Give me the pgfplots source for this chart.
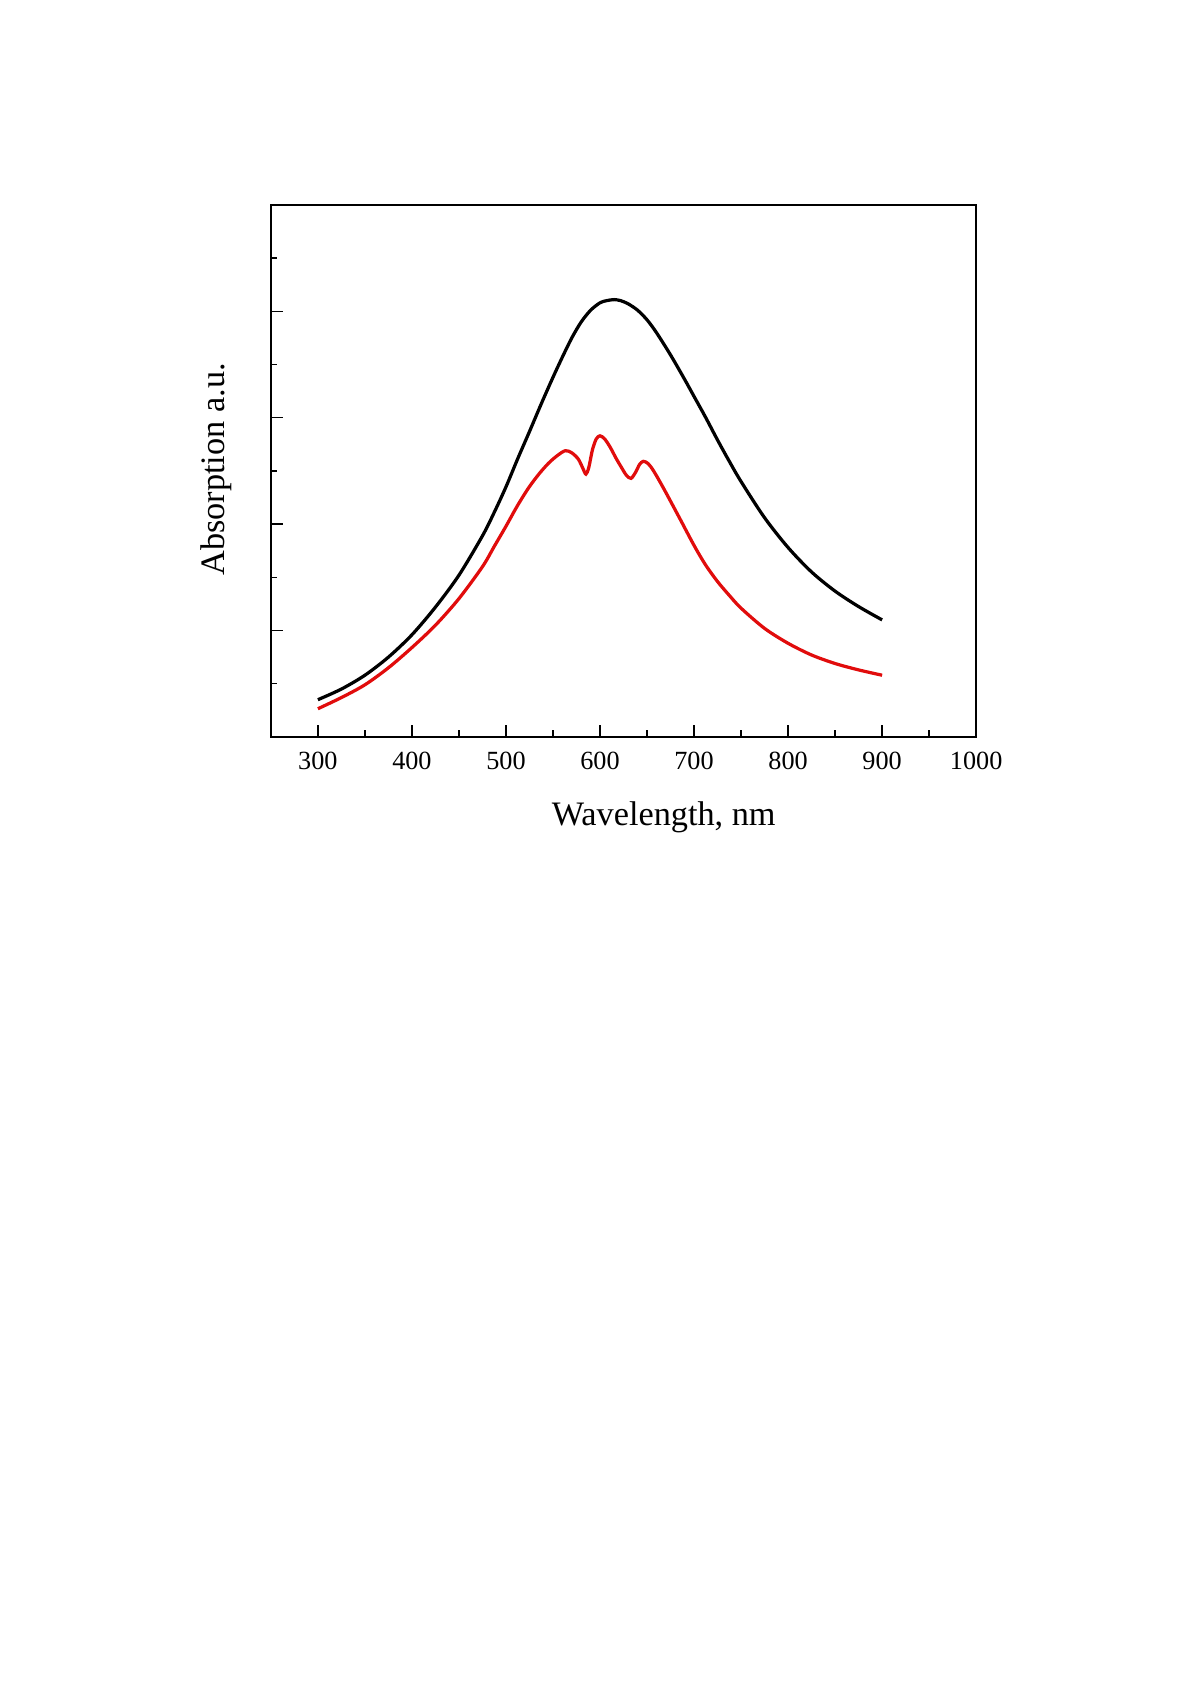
\documentclass[border=0pt]{standalone}
\usepackage{pgfplots}
\pgfplotsset{compat=1.18}
\usepackage{fontspec}
\setmainfont{Liberation Serif}
\definecolor{specred}{RGB}{225,12,12}

\begin{document}
\begin{tikzpicture}
  % page area (A4 proportions, chart sits in the upper part)
  \path[use as bounding box] (0,0) rectangle (595.3pt,841.9pt);
  \begin{axis}[
    at={(134.3pt,476.5pt)}, anchor=south west,
    scale only axis,
    width=349.7pt, height=263.8pt,
    xmin=250, xmax=1000, ymin=0, ymax=5,
    xtick={300,400,...,1000},
    ytick={0,1,...,5}, yticklabels={},
    minor x tick num=1, minor y tick num=1,
    tick align=inside,
    xtick pos=bottom, ytick pos=left,
    major tick length=6pt, minor tick length=3.2pt,
    axis line style={line width=0.8pt},
    every tick/.style={black, line width=0.7pt},
    /pgf/number format/assume math mode=true,
    /pgf/number format/1000 sep={},
    xticklabel style={font=\fontsize{13}{15}\selectfont, yshift=-4pt},
    xlabel={Wavelength, nm},
    ylabel={Absorption a.u.},
    xlabel style={font=\fontsize{17}{20}\selectfont, at={(axis description cs:0.557,0)}, anchor=center, yshift=-40pt},
    ylabel style={font=\fontsize{17}{20}\selectfont, at={(axis description cs:-0.078,0.503)}, anchor=center},
  ]
  % reference spectrum
  \addplot[black, line width=1.6pt, smooth] coordinates {
    (300,0.35) (325,0.45) (350,0.58) (375,0.75) (400,0.96) (425,1.22)
    (450,1.52) (475,1.89) (487.5,2.11) (500,2.35) (512.5,2.615) (525,2.87)
    (537.5,3.13) (550,3.38) (560,3.57) (570,3.75) (580,3.90) (590,4.01)
    (600,4.08) (607,4.10) (615,4.11) (622,4.10) (630,4.07) (640,4.01)
    (650,3.92) (660,3.80) (675,3.59) (690,3.36) (700,3.20) (712.5,3.00)
    (725,2.79) (737.5,2.59) (750,2.40) (775,2.06) (800,1.78) (825,1.55)
    (850,1.37) (875,1.225) (900,1.10)
  };
  % split spectrum
  \addplot[specred, line width=1.6pt, smooth, tension=0.5] coordinates {
    (300,0.265) (325,0.37) (350,0.49) (375,0.65) (400,0.84) (425,1.05)
    (450,1.30) (475,1.60) (487.5,1.79) (500,1.98) (512,2.17) (524,2.34)
    (535,2.47) (545,2.57) (554,2.64) (563,2.69) (570,2.67) (577,2.61)
    (582,2.52) (585,2.47) (588,2.53) (592,2.70) (596,2.80) (600,2.83)
    (605,2.80) (611,2.72) (617,2.62) (623,2.53) (628,2.46) (633,2.43)
    (638,2.49) (642,2.56) (646,2.59) (651,2.57) (657,2.50) (668,2.33)
    (685,2.05) (700,1.80) (712,1.62) (725,1.46) (737.5,1.33) (750,1.21)
    (775,1.02) (800,0.88) (825,0.77) (850,0.69) (875,0.63) (900,0.58)
  };
  \end{axis}
\end{tikzpicture}
\end{document}
